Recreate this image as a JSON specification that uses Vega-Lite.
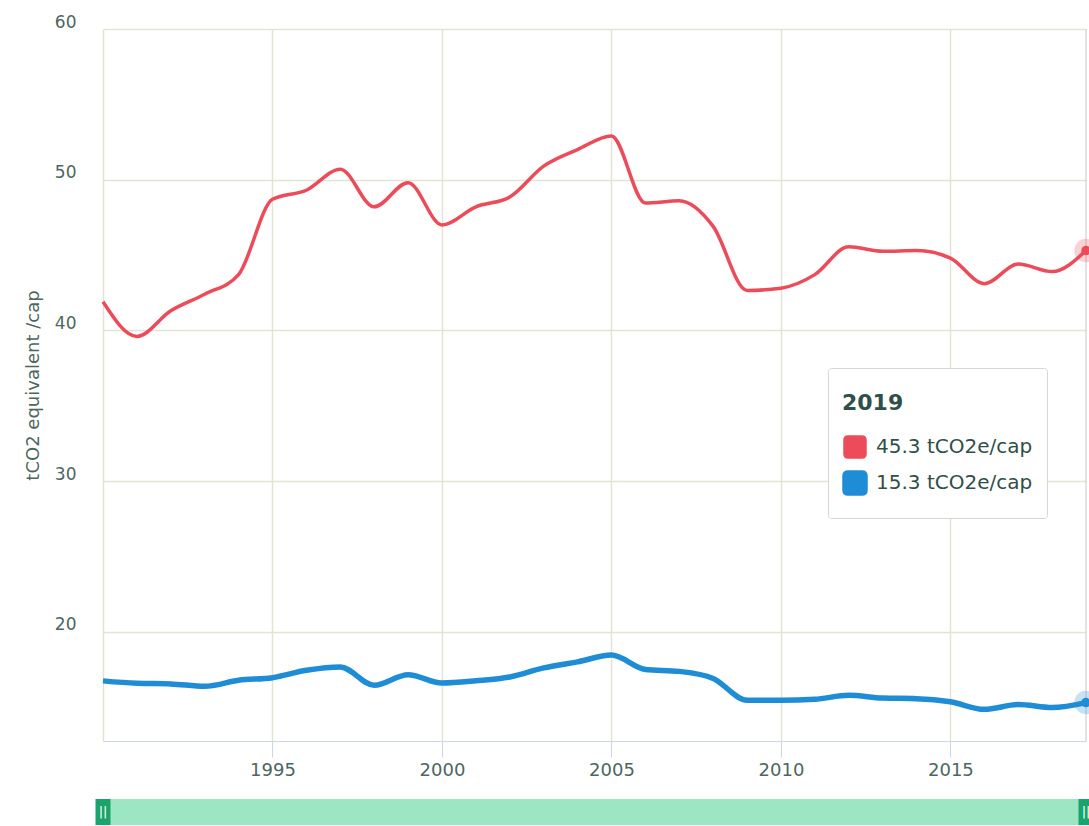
{
  "$schema": "https://vega.github.io/schema/vega-lite/v6.json",
  "padding": {"left": 24, "top": 13, "right": 0, "bottom": 0},
  "config": {
    "font": "DejaVu Sans",
    "view": {"stroke": null},
    "concat": {"spacing": 20}
  },
  "datasets": {
    "emissions": [
      {"year": 1990, "series": "45.3 tCO2e/cap", "value": 41.9},
      {"year": 1991, "series": "45.3 tCO2e/cap", "value": 39.6},
      {"year": 1992, "series": "45.3 tCO2e/cap", "value": 41.3},
      {"year": 1993, "series": "45.3 tCO2e/cap", "value": 42.4},
      {"year": 1994, "series": "45.3 tCO2e/cap", "value": 43.7},
      {"year": 1995, "series": "45.3 tCO2e/cap", "value": 48.7},
      {"year": 1996, "series": "45.3 tCO2e/cap", "value": 49.3},
      {"year": 1997, "series": "45.3 tCO2e/cap", "value": 50.7},
      {"year": 1998, "series": "45.3 tCO2e/cap", "value": 48.2},
      {"year": 1999, "series": "45.3 tCO2e/cap", "value": 49.8},
      {"year": 2000, "series": "45.3 tCO2e/cap", "value": 47.0},
      {"year": 2001, "series": "45.3 tCO2e/cap", "value": 48.2},
      {"year": 2002, "series": "45.3 tCO2e/cap", "value": 48.85},
      {"year": 2003, "series": "45.3 tCO2e/cap", "value": 50.9},
      {"year": 2004, "series": "45.3 tCO2e/cap", "value": 52.0},
      {"year": 2005, "series": "45.3 tCO2e/cap", "value": 52.9},
      {"year": 2006, "series": "45.3 tCO2e/cap", "value": 48.45},
      {"year": 2007, "series": "45.3 tCO2e/cap", "value": 48.6},
      {"year": 2008, "series": "45.3 tCO2e/cap", "value": 46.9},
      {"year": 2009, "series": "45.3 tCO2e/cap", "value": 42.65},
      {"year": 2010, "series": "45.3 tCO2e/cap", "value": 42.8},
      {"year": 2011, "series": "45.3 tCO2e/cap", "value": 43.7},
      {"year": 2012, "series": "45.3 tCO2e/cap", "value": 45.55},
      {"year": 2013, "series": "45.3 tCO2e/cap", "value": 45.25},
      {"year": 2014, "series": "45.3 tCO2e/cap", "value": 45.3},
      {"year": 2015, "series": "45.3 tCO2e/cap", "value": 44.8},
      {"year": 2016, "series": "45.3 tCO2e/cap", "value": 43.1},
      {"year": 2017, "series": "45.3 tCO2e/cap", "value": 44.4},
      {"year": 2018, "series": "45.3 tCO2e/cap", "value": 43.9},
      {"year": 2019, "series": "45.3 tCO2e/cap", "value": 45.3},
      {"year": 1990, "series": "15.3 tCO2e/cap", "value": 16.74},
      {"year": 1991, "series": "15.3 tCO2e/cap", "value": 16.58},
      {"year": 1992, "series": "15.3 tCO2e/cap", "value": 16.54},
      {"year": 1993, "series": "15.3 tCO2e/cap", "value": 16.38},
      {"year": 1994, "series": "15.3 tCO2e/cap", "value": 16.78},
      {"year": 1995, "series": "15.3 tCO2e/cap", "value": 16.95},
      {"year": 1996, "series": "15.3 tCO2e/cap", "value": 17.44},
      {"year": 1997, "series": "15.3 tCO2e/cap", "value": 17.66},
      {"year": 1998, "series": "15.3 tCO2e/cap", "value": 16.45},
      {"year": 1999, "series": "15.3 tCO2e/cap", "value": 17.15},
      {"year": 2000, "series": "15.3 tCO2e/cap", "value": 16.6},
      {"year": 2001, "series": "15.3 tCO2e/cap", "value": 16.75},
      {"year": 2002, "series": "15.3 tCO2e/cap", "value": 17.0},
      {"year": 2003, "series": "15.3 tCO2e/cap", "value": 17.6},
      {"year": 2004, "series": "15.3 tCO2e/cap", "value": 18.0},
      {"year": 2005, "series": "15.3 tCO2e/cap", "value": 18.45},
      {"year": 2006, "series": "15.3 tCO2e/cap", "value": 17.5},
      {"year": 2007, "series": "15.3 tCO2e/cap", "value": 17.37},
      {"year": 2008, "series": "15.3 tCO2e/cap", "value": 16.9},
      {"year": 2009, "series": "15.3 tCO2e/cap", "value": 15.45},
      {"year": 2010, "series": "15.3 tCO2e/cap", "value": 15.45},
      {"year": 2011, "series": "15.3 tCO2e/cap", "value": 15.52},
      {"year": 2012, "series": "15.3 tCO2e/cap", "value": 15.78},
      {"year": 2013, "series": "15.3 tCO2e/cap", "value": 15.6},
      {"year": 2014, "series": "15.3 tCO2e/cap", "value": 15.56},
      {"year": 2015, "series": "15.3 tCO2e/cap", "value": 15.35},
      {"year": 2016, "series": "15.3 tCO2e/cap", "value": 14.85},
      {"year": 2017, "series": "15.3 tCO2e/cap", "value": 15.17},
      {"year": 2018, "series": "15.3 tCO2e/cap", "value": 14.97},
      {"year": 2019, "series": "15.3 tCO2e/cap", "value": 15.3}
    ],
    "nav": [{"start": 1990, "end": 2019}],
    "handles": [{"year": 1990}, {"year": 2019}]
  },
  "vconcat": [
    {
      "width": 983,
      "height": 712,
      "data": {"name": "emissions"},
      "encoding": {
        "x": {
          "field": "year", "type": "quantitative",
          "scale": {"domain": [1990, 2019], "nice": false, "zero": false},
          "axis": {
            "values": [1995, 2000, 2005, 2010, 2015], "format": "d", "title": null,
            "tickSize": 16, "tickColor": "#ccd6eb", "domainColor": "#ccd6eb", "domainWidth": 1,
            "labelPadding": 4, "labelFontSize": 18, "labelColor": "#4d6661",
            "grid": true, "gridColor": "#e3e3d4", "gridWidth": 1.5
          }
        },
        "y": {
          "field": "value", "type": "quantitative",
          "scale": {"domain": [12.75, 60], "nice": false, "zero": false},
          "axis": {
            "values": [20, 30, 40, 50, 60], "title": "tCO2 equivalent /cap",
            "ticks": false, "labelPadding": 27, "labelFontSize": 17, "labelColor": "#4d6661",
            "labelBaseline": "alphabetic", "labelOffset": -2,
            "domain": true, "domainColor": "#e3e3d4", "domainWidth": 1.5,
            "grid": true, "gridColor": "#e3e3d4", "gridWidth": 1.5,
            "titleFontSize": 18, "titleFontWeight": "normal", "titleColor": "#4d6661", "titlePadding": 12
          }
        }
      },
      "layer": [
        {
          "transform": [{"filter": "datum.year == 2019 && datum.series == '45.3 tCO2e/cap'"}],
          "mark": {"type": "rule", "color": "#c8c8c8", "strokeWidth": 1},
          "encoding": {"y": {"value": 0}, "y2": {"value": 712}}
        },
        {
          "mark": {"type": "line", "interpolate": "monotone"},
          "encoding": {
            "color": {
              "field": "series", "type": "nominal",
              "scale": {"domain": ["45.3 tCO2e/cap", "15.3 tCO2e/cap"], "range": ["#ec4b5a", "#1f8dd6"]},
              "legend": {
                "orient": "none", "legendX": 725, "legendY": 339,
                "title": "2019",
                "symbolType": "M -1 -0.7 Q -1 -1 -0.7 -1 L 0.7 -1 Q 1 -1 1 -0.7 L 1 0.7 Q 1 1 0.7 1 L -0.7 1 Q -1 1 -1 0.7 Z",
                "symbolSize": 400, "symbolStrokeWidth": 0, "symbolOpacity": 1,
                "fillColor": "white", "strokeColor": "#d6d6d6", "padding": 14, "cornerRadius": 3,
                "titleFontSize": 22, "titleFontWeight": "bold", "titleColor": "#2f4f4a",
                "titleBaseline": "line-top", "titleLineHeight": 44, "titlePadding": 31,
                "labelFontSize": 20, "labelColor": "#2f4f4a", "labelOffset": 8, "rowPadding": -2,
                "encode": {
                  "symbols": {
                    "update": {
                      "fill": {"scale": "color", "field": "value"},
                      "stroke": {"value": "transparent"},
                      "strokeWidth": {"value": 0},
                      "opacity": {"value": 1}
                    }
                  }
                }
              }
            },
            "strokeWidth": {
              "field": "series", "type": "nominal",
              "scale": {"domain": ["45.3 tCO2e/cap", "15.3 tCO2e/cap"], "range": [3.5, 5.5]},
              "legend": null
            }
          }
        },
        {
          "transform": [{"filter": "datum.year == 2019"}],
          "mark": {"type": "circle", "size": 550, "opacity": 0.25},
          "encoding": {
            "color": {"field": "series", "type": "nominal"}
          }
        },
        {
          "transform": [{"filter": "datum.year == 2019"}],
          "mark": {"type": "circle", "size": 90, "opacity": 1},
          "encoding": {
            "color": {"field": "series", "type": "nominal"}
          }
        }
      ]
    },
    {
      "width": 983,
      "height": 26,
      "layer": [
        {
          "data": {"name": "nav"},
          "mark": {"type": "rect", "color": "#9de6c4"},
          "encoding": {
            "x": {"field": "start", "type": "quantitative", "scale": {"domain": [1990, 2019], "nice": false, "zero": false}, "axis": null},
            "x2": {"field": "end"}
          }
        },
        {
          "data": {"name": "handles"},
          "mark": {"type": "tick", "orient": "vertical", "thickness": 15, "size": 26, "color": "#1aa36b", "opacity": 1},
          "encoding": {
            "x": {"field": "year", "type": "quantitative", "axis": null}
          }
        },
        {
          "data": {"name": "handles"},
          "mark": {"type": "text", "text": "||", "color": "white", "fontSize": 13, "baseline": "middle"},
          "encoding": {
            "x": {"field": "year", "type": "quantitative", "axis": null}
          }
        }
      ]
    }
  ]
}
